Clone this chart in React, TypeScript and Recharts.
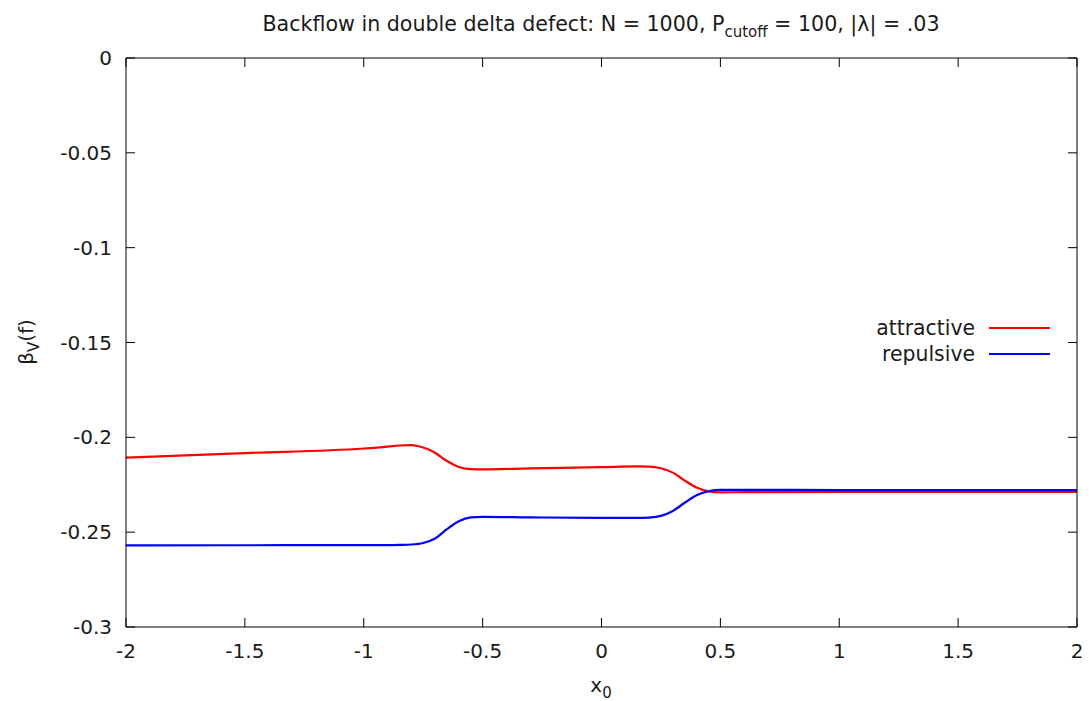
import React from 'react';
import { LineChart, Line, XAxis, YAxis, Customized } from 'recharts';

// Sampled positions x0 of the defect
const xValues = [
  -2, -1.5, -1, -0.9, -0.85, -0.8, -0.75, -0.7, -0.65, -0.6, -0.55, -0.5, -0.3, 0,
  0.15, 0.2, 0.25, 0.3, 0.35, 0.4, 0.45, 0.5, 0.6, 1, 1.5, 2,
];

// beta_V(f) for the attractive defect
const attractive = [
  -0.2107, -0.2083, -0.2059, -0.2049, -0.2043, -0.2041, -0.2054, -0.2081, -0.2125, -0.2156,
  -0.2168, -0.2169, -0.2164, -0.2157, -0.2153, -0.2154, -0.2163, -0.2186, -0.2228, -0.2265,
  -0.2285, -0.229, -0.2289, -0.2288, -0.2288, -0.2288,
];

// beta_V(f) for the repulsive defect
const repulsive = [
  -0.257, -0.2569, -0.2568, -0.2568, -0.2567, -0.2565, -0.2557, -0.2533, -0.2484, -0.2442,
  -0.2422, -0.2419, -0.2422, -0.2425, -0.2425, -0.2423, -0.2414, -0.2388, -0.2345, -0.2305,
  -0.2284, -0.2277, -0.2277, -0.2278, -0.2278, -0.2278,
];

const xTicks = [-2, -1.5, -1, -0.5, 0, 0.5, 1, 1.5, 2];
const yTicks = [0, -0.05, -0.1, -0.15, -0.2, -0.25, -0.3];

const series = [
  { key: 'attractive', name: 'attractive', color: '#ff0000' },
  { key: 'repulsive', name: 'repulsive', color: '#0000ff' },
];

const data = xValues.map((x, i) => ({ x, attractive: attractive[i], repulsive: repulsive[i] }));

const FONT = '"DejaVu Sans", sans-serif';
const FS = 20;
const SUB = 15;
const TEXT = '#1a1a1a';
const TICK_LEN = 9;

const LeftTick = (props: any) => {
  const { x, y, payload } = props;
  return (
    <g>
      <line x1={x} x2={x + TICK_LEN} y1={y} y2={y} stroke="#000" strokeWidth={1} />
      <text x={x - 14} y={y} textAnchor="end" dominantBaseline="central" fontFamily={FONT} fontSize={FS} fill={TEXT}>
        {String(payload.value)}
      </text>
    </g>
  );
};

const RightTick = (props: any) => {
  const { x, y } = props;
  return <line x1={x} x2={x - TICK_LEN} y1={y} y2={y} stroke="#000" strokeWidth={1} />;
};

const BottomTick = (props: any) => {
  const { x, y, payload } = props;
  return (
    <g>
      <line x1={x} x2={x} y1={y} y2={y - TICK_LEN} stroke="#000" strokeWidth={1} />
      <text x={x} y={y + 24} textAnchor="middle" dominantBaseline="central" fontFamily={FONT} fontSize={FS} fill={TEXT}>
        {String(payload.value)}
      </text>
    </g>
  );
};

const TopTick = (props: any) => {
  const { x, y } = props;
  return <line x1={x} x2={x} y1={y} y2={y + TICK_LEN} stroke="#000" strokeWidth={1} />;
};

const Annotations = () => (
  <g fontFamily={FONT} fill={TEXT}>
    <text x={601} y={31} textAnchor="middle" fontSize={20.6}>
      <tspan>Backflow in double delta defect: N = 1000, P</tspan>
      <tspan fontSize={SUB} dy={6}>cutoff</tspan>
      <tspan dy={-6}> = 100, |λ| = .03</tspan>
    </text>
    <text x={601} y={692} textAnchor="middle" fontSize={FS}>
      <tspan>x</tspan>
      <tspan fontSize={SUB} dy={6}>0</tspan>
    </text>
    <text transform="translate(33,342) rotate(-90)" textAnchor="middle" fontSize={FS}>
      <tspan>β</tspan>
      <tspan fontSize={SUB} dy={6}>V</tspan>
      <tspan dy={-6}>(f)</tspan>
    </text>
    {series.map((s, i) => (
      <g key={s.key}>
        <text x={975} y={328 + i * 26} textAnchor="end" dominantBaseline="central" fontSize={20.4}>
          {s.name}
        </text>
        <line x1={989} x2={1050} y1={328 + i * 26} y2={328 + i * 26} stroke={s.color} strokeWidth={2.2} />
      </g>
    ))}
  </g>
);

export default function App() {
  return (
    <div style={{ position: 'absolute', left: 0, top: 0, background: '#fff' }}>
      <LineChart width={1089} height={701} data={data} margin={{ top: 57, right: 11, bottom: 0, left: 0 }}>
        <XAxis
          xAxisId="b"
          dataKey="x"
          type="number"
          domain={[-2, 2]}
          ticks={xTicks}
          height={74}
          tickSize={0}
          tickMargin={0}
          tickLine={false}
          axisLine={{ stroke: '#000', strokeWidth: 1 }}
          tick={<BottomTick />}
          allowDataOverflow
        />
        <XAxis
          xAxisId="t"
          orientation="top"
          dataKey="x"
          type="number"
          domain={[-2, 2]}
          ticks={xTicks}
          height={1}
          tickSize={0}
          tickMargin={0}
          tickLine={false}
          axisLine={{ stroke: '#000', strokeWidth: 1 }}
          tick={<TopTick />}
          allowDataOverflow
        />
        <YAxis
          yAxisId="l"
          type="number"
          domain={[-0.3, 0]}
          ticks={yTicks}
          width={126}
          tickSize={0}
          tickMargin={0}
          tickLine={false}
          axisLine={{ stroke: '#000', strokeWidth: 1 }}
          tick={<LeftTick />}
          allowDataOverflow
        />
        <YAxis
          yAxisId="r"
          orientation="right"
          type="number"
          domain={[-0.3, 0]}
          ticks={yTicks}
          width={1}
          tickSize={0}
          tickMargin={0}
          tickLine={false}
          axisLine={{ stroke: '#000', strokeWidth: 1 }}
          tick={<RightTick />}
          allowDataOverflow
        />
        {/* invisible series that binds the mirrored top/right frame axes */}
        <Line
          xAxisId="t"
          yAxisId="r"
          dataKey="attractive"
          stroke="none"
          dot={false}
          activeDot={false}
          legendType="none"
          isAnimationActive={false}
        />
        {series.map((s) => (
          <Line
            key={s.key}
            xAxisId="b"
            yAxisId="l"
            type="monotone"
            dataKey={s.key}
            name={s.name}
            stroke={s.color}
            strokeWidth={2.2}
            dot={false}
            activeDot={false}
            isAnimationActive={false}
          />
        ))}
        <Customized component={Annotations} />
      </LineChart>
    </div>
  );
}
